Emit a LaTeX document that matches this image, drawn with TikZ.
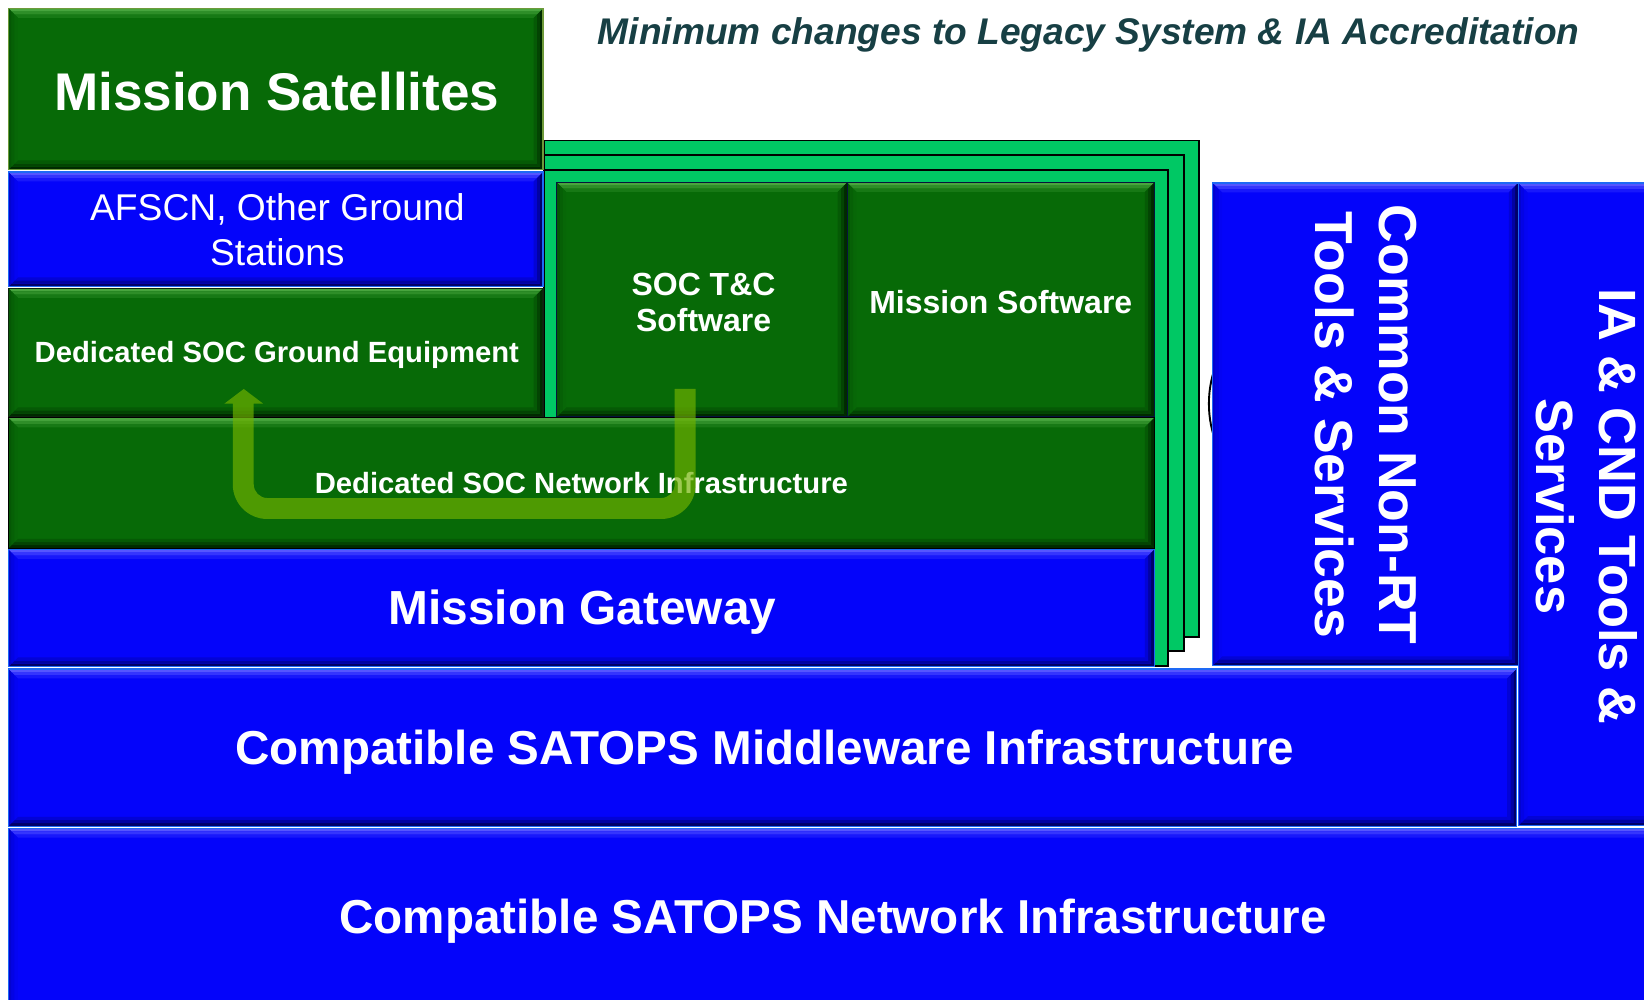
\documentclass[tikz,border=0pt]{standalone}
\usepackage{fontspec}
\setmainfont{Liberation Sans}
\usetikzlibrary{calc}

% palette
\definecolor{gbase}{RGB}{7,106,7}
\definecolor{glight}{RGB}{72,165,62}
\definecolor{gdark}{RGB}{0,42,0}
\definecolor{bbase}{RGB}{4,4,250}
\definecolor{blight}{RGB}{85,85,255}
\definecolor{bdark}{RGB}{0,0,105}
\definecolor{bedge}{RGB}{30,105,245}
\definecolor{gedge}{RGB}{14,36,14}
\definecolor{oliveedge}{RGB}{110,154,58}
\definecolor{navyedge}{RGB}{6,20,60}
\definecolor{frameg}{RGB}{0,200,100}
\definecolor{arrowg}{RGB}{112,178,0}
\definecolor{titlec}{RGB}{23,63,68}

\newcommand\fsz[2]{\fontsize{#1}{#2}\selectfont}

% one ring of the bevel, between insets #2 and #3 (pt) of box #1,
% coloured top #4, bottom #5, left #6, right #7
\newcommand\bevring[7]{%
  \fill[#4] ([xshift=#2pt,yshift=-#2pt]#1.north west) -- ([xshift=-#2pt,yshift=-#2pt]#1.north east)
    -- ([xshift=-#3pt,yshift=-#3pt]#1.north east) -- ([xshift=#3pt,yshift=-#3pt]#1.north west) -- cycle;
  \fill[#5] ([xshift=#2pt,yshift=#2pt]#1.south west) -- ([xshift=-#2pt,yshift=#2pt]#1.south east)
    -- ([xshift=-#3pt,yshift=#3pt]#1.south east) -- ([xshift=#3pt,yshift=#3pt]#1.south west) -- cycle;
  \fill[#6] ([xshift=#2pt,yshift=-#2pt]#1.north west) -- ([xshift=#2pt,yshift=#2pt]#1.south west)
    -- ([xshift=#3pt,yshift=#3pt]#1.south west) -- ([xshift=#3pt,yshift=-#3pt]#1.north west) -- cycle;
  \fill[#7] ([xshift=-#2pt,yshift=-#2pt]#1.north east) -- ([xshift=-#2pt,yshift=#2pt]#1.south east)
    -- ([xshift=-#3pt,yshift=#3pt]#1.south east) -- ([xshift=-#3pt,yshift=-#3pt]#1.north east) -- cycle;
}
% stepped bevel: name, light, base, dark, edge colour
\newcommand\bevel[5]{%
  \bevring{#1}{0}{3}{#2}{#4}{#3!70!#4}{#4}%
  \bevring{#1}{3}{6}{#2!60!#3}{#4!60!#3}{#3!85!#4}{#4!60!#3}%
  \bevring{#1}{6}{9}{#2!25!#3}{#4!25!#3}{#3!95!#4}{#4!25!#3}%
  \draw[#5, line width=1.2pt] (#1.north west) rectangle (#1.south east);
}

% box from its two corners: name, x1, y1, x2, y2, style
\newcommand\slab[6]{%
  \node[#6, minimum width={(#4)-(#2)}, minimum height={(#5)-(#3)}]
    (#1) at ({((#2)+(#4))/2},{((#3)+(#5))/2}) {};}
% green and blue bevelled boxes: [edge colour] name, x1, y1, x2, y2
\newcommand\gslab[6][gedge]{\slab{#2}{#3}{#4}{#5}{#6}{greenslab}\bevel{#2}{glight}{gbase}{gdark}{#1}}
\newcommand\bslab[5]{\slab{#1}{#2}{#3}{#4}{#5}{blueslab}\bevel{#1}{blight}{bbase}{bdark}{bedge}}

\tikzset{
  slab/.style={rectangle, inner sep=0pt, outer sep=0pt},
  greenslab/.style={slab, fill=gbase},
  blueslab/.style={slab, fill=bbase},
  frame/.style={slab, fill=frameg, draw=black, line width=1.5pt},
  lbl/.style={text=white, inner sep=0pt, anchor=base},
  vlbl/.style={lbl, rotate=-90},
  flow/.style={fill=arrowg, fill opacity=0.68},
}

\begin{document}
\begin{tikzpicture}[x=1pt, y=-1pt]
\useasboundingbox (0,0) rectangle (1568,953);
\fill[white] (0,0) rectangle (1568,953);
\begin{scope}
\clip (0,0) rectangle (1568,953);

% stacked light-green frames behind the SOC software
\slab{frameA}{519}{134}{1143.5}{607.5}{frame}
\slab{frameB}{519}{148}{1129}{621}{frame}
\slab{frameC}{519}{162}{1114}{635}{frame}

% outline mostly hidden behind the Non-RT column
\node[circle, draw=black, line width=1.8pt, minimum size=208pt, inner sep=0pt] (hidden) at (1257,385) {};

% left column
\gslab[oliveedge]{sat}{8}{8}{518}{162}
\bslab{afscn}{8}{164}{518}{273.5}
\gslab{gnd}{8}{275}{518}{397.5}

% SOC software boxes
\gslab[navyedge]{soctc}{531}{174}{808}{397.5}
\gslab[navyedge]{msw}{808}{174}{1101}{397.5}

% SOC network and gateway
\gslab[black]{netinf}{8}{398.5}{1101}{523}
\bslab{gate}{8}{524}{1101}{636}

% common services and infrastructure
\bslab{nonrt}{1156.5}{174.5}{1448}{635}
\bslab{iacnd}{1448}{174.5}{1590}{787.5}
\bslab{mware}{8}{638}{1446.5}{788}
\bslab{satnet}{8}{790}{1590}{975}

% labels
\node[text=titlec, inner sep=0pt, anchor=base, font=\fsz{35.4}{42}\bfseries\itshape] (title)
  at (1038.5,42.3) {Minimum changes to Legacy System \& IA Accreditation};
\node[lbl, font=\fsz{50.6}{60}\bfseries] (satT) at (264,105) {Mission Satellites};
\node[lbl, font=\fsz{35.5}{43}] (afscnT1) at (264.5,210.5) {AFSCN, Other Ground};
\node[lbl, font=\fsz{35.5}{43}] (afscnT2) at (264.5,253) {Stations};
\node[lbl, font=\fsz{27.9}{34}\bfseries] (gndT) at (264,346) {Dedicated SOC Ground Equipment};
\node[lbl, font=\fsz{30.5}{36}\bfseries] (soctcT1) at (671,281.4) {SOC T\&C};
\node[lbl, font=\fsz{30.5}{36}\bfseries] (soctcT2) at (671,316.3) {Software};
\node[lbl, font=\fsz{30.5}{36}\bfseries] (mswT) at (954.5,299) {Mission Software};
\node[lbl, font=\fsz{27.9}{34}\bfseries] (netinfT) at (554.5,471) {Dedicated SOC Network Infrastructure};
\node[lbl, font=\fsz{45.6}{54}\bfseries] (gateT) at (555.5,596) {Mission Gateway};
\node[lbl, font=\fsz{45.4}{54}\bfseries] (mwareT) at (729.5,729.6) {Compatible SATOPS Middleware Infrastructure};
\node[lbl, font=\fsz{45.4}{54}\bfseries] (satnetT) at (794.5,890) {Compatible SATOPS Network Infrastructure};
\node[vlbl, font=\fsz{51}{60}\bfseries] (nonrtT1) at (1316,405) {Common Non-RT};
\node[vlbl, font=\fsz{51}{60}\bfseries] (nonrtT2) at (1255,405) {Tools \& Services};
\node[vlbl, font=\fsz{50}{58}\bfseries] (iaT1) at (1526,483) {IA \& CND Tools \&};
\node[vlbl, font=\fsz{50}{58}\bfseries] (iaT2) at (1465,483) {Services};

% translucent U-turn arrow from the SOC software down to the ground equipment
\fill[flow] (663.5,371) -- (663.5,462)
  arc[start angle=0, end angle=90, radius=33] -- (255,495)
  arc[start angle=90, end angle=180, radius=33] -- (222,385)
  -- (214,385) -- (232.5,371) -- (251,385) -- (242,385) -- (242,462)
  arc[start angle=180, end angle=90, radius=13] -- (630.5,475)
  arc[start angle=90, end angle=0, radius=13] -- (643.5,371) -- cycle;

\end{scope}
\end{tikzpicture}
\end{document}
